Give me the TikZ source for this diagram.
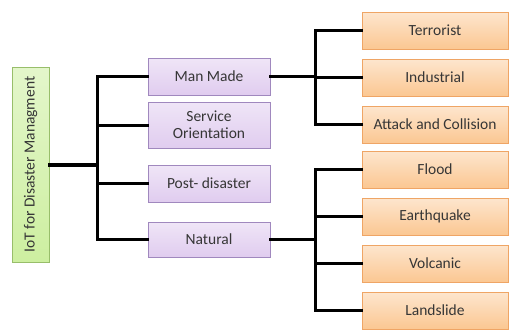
\documentclass[tikz,border=0pt]{standalone}
\usepackage{fontspec}
\setmainfont{Carlito}
\usetikzlibrary{positioning,calc}
\usetikzlibrary{shadows}

\definecolor{rootfill}{HTML}{CDEFA0}
\definecolor{rootline}{HTML}{98BE6A}
\definecolor{catfill}{HTML}{E0CCEF}
\definecolor{catline}{HTML}{A088BE}
\definecolor{subfill}{HTML}{FBC792}
\definecolor{subline}{HTML}{EFA565}
\definecolor{txt}{HTML}{363636}

\tikzset{
  box/.style={draw, line width=1pt, text=txt, align=center,
    font=\fontsize{15.5}{17}\selectfont,
    drop shadow={opacity=0.2, shadow xshift=1pt, shadow yshift=-1.2pt}},
  rootbox/.style={box, draw=rootline, top color=rootfill!55!white, bottom color=rootfill,
    rotate=90, minimum width=195pt, minimum height=37pt},
  catbox/.style={box, draw=catline, top color=catfill!50!white, bottom color=catfill,
    minimum width=122pt, minimum height=37pt},
  subbox/.style={box, draw=subline, top color=subfill!45!white, bottom color=subfill,
    minimum width=146pt, minimum height=37pt},
  wire/.style={line width=3pt, line cap=rect}
}

\begin{document}
\begin{tikzpicture}[x=1pt, y=-1pt]
  \useasboundingbox (0,0) rectangle (510,330);

  \node[rootbox] at (30.5, 164.5) (root) {IoT for Disaster Managment};

  \node[catbox] at (209, 76.5)  (man)     {Man Made};
  \node[catbox, minimum height=46pt, inner sep=1pt] at (209, 125) (service) {Service\\Orientation};
  \node[catbox] at (209, 183.5) (post)    {Post- disaster};
  \node[catbox, minimum height=35pt] at (209, 239.5) (natural) {Natural};

  \node[subbox] at (435, 30.5)  (terror)  {Terrorist};
  \node[subbox] (industry) [below=9pt of terror]    {Industrial};
  \node[subbox] (attack)   [below=9pt of industry]  {Attack and Collision};
  \node[subbox] at (435, 169.5) (flood)   {Flood};
  \node[subbox] (quake)    [below=9pt of flood]     {Earthquake};
  \node[subbox] (volcano)  [below=9pt of quake]     {Volcanic};
  \node[subbox] (slide)    [below=9pt of volcano]   {Landslide};

  % forks
  \coordinate (rfork) at (97, 164.5);
  \coordinate (mfork) at (315, 76.5);
  \coordinate (nfork) at (315, 239.5);

  \draw[wire, line width=4pt] (root.south) -- (rfork);
  \draw[wire] (rfork) |- (man.west);
  \draw[wire] (rfork) |- (service.west);
  \draw[wire] (rfork) |- (post.west);
  \draw[wire] (rfork) |- (natural.west);

  \draw[wire] (man.east) -- (mfork);
  \draw[wire] (mfork) |- (terror.west);
  \draw[wire] (mfork) |- (industry.west);
  \draw[wire] (mfork) |- (attack.west);

  \draw[wire] (natural.east) -- (nfork);
  \draw[wire] (nfork) |- (flood.west);
  \draw[wire] (nfork) |- (quake.west);
  \draw[wire] (nfork) |- (volcano.west);
  \draw[wire] (nfork) |- (slide.west);

\end{tikzpicture}
\end{document}
